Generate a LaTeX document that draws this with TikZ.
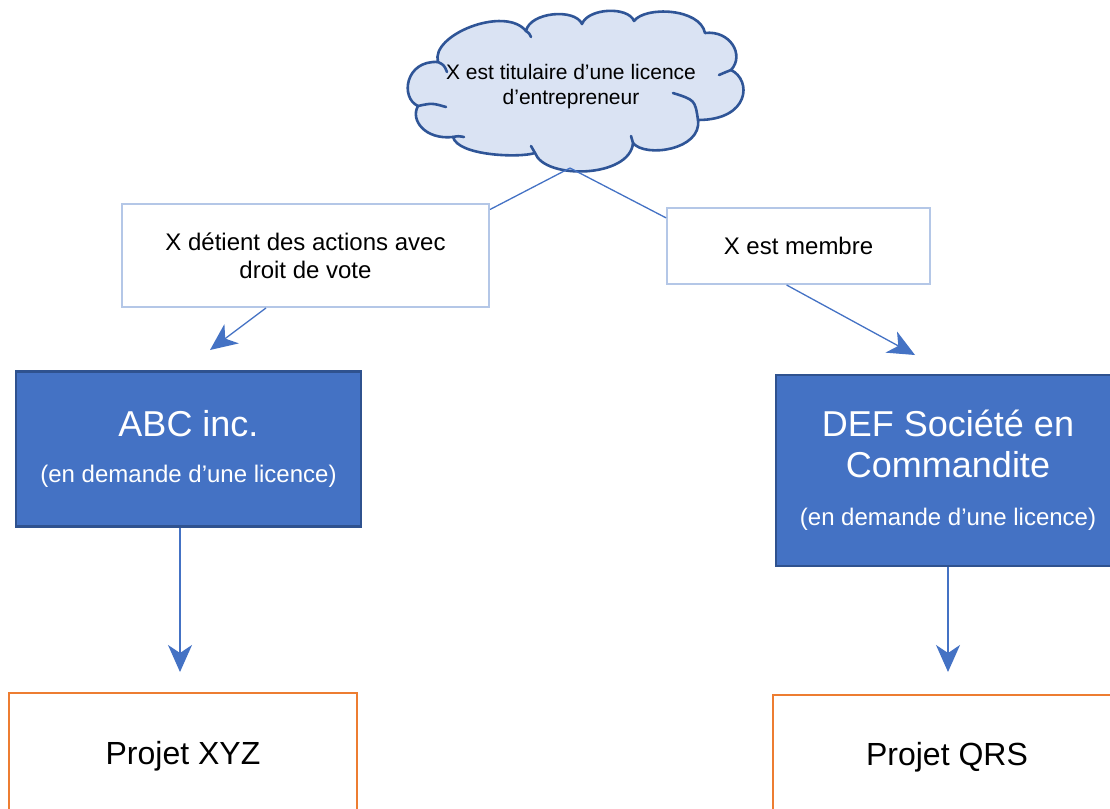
\documentclass[tikz,border=0pt]{standalone}
\usepackage{fontspec}
\setmainfont{Liberation Sans}
\usetikzlibrary{arrows.meta}
\definecolor{accent}{HTML}{4472C4}
\definecolor{accentdark}{HTML}{2F528F}
\definecolor{cloudfill}{HTML}{DAE3F3}
\definecolor{cloudline}{HTML}{2F5597}
\definecolor{lightline}{HTML}{B4C7E7}
\definecolor{orangeline}{HTML}{ED7D31}
\newcommand{\bigline}{\fontsize{36}{41}\selectfont}
\newcommand{\smallline}{\fontsize{24}{29}\selectfont}
\tikzset{
  conn/.style={draw=accent, line width=1.3pt},
  arr/.style={conn, -{Stealth[length=27pt, width=24pt, inset=8pt]}},
  labelbox/.style={draw=lightline, line width=2pt, fill=white, align=center,
    font=\fontsize{24}{28}\selectfont, inner sep=0pt},
  entity/.style={draw=accentdark, line width=2.5pt, fill=accent, text=white,
    align=center, inner sep=0pt, font=\bigline},
  project/.style={draw=orangeline, line width=2pt, fill=white,
    font=\fontsize{32}{38}\selectfont, inner sep=0pt},
  cloudline/.style={draw=cloudline, line width=2.6pt, line cap=round, line join=round}
}
\begin{document}
\begin{tikzpicture}[x=1pt, y=-1pt]
\useasboundingbox (0,0) rectangle (1110,808);
\clip (0,0) rectangle (1110,808);

% cloud outline, puff by puff
\draw[cloudline, fill=cloudfill]
  (438,62) .. controls (430,35) and (505,5) .. (526,31)
  .. controls (530,12) and (575,8) .. (582,24)
  .. controls (588,8) and (628,6) .. (634,21)
  .. controls (645,6) and (700,8) .. (705,33)
  .. controls (730,30) and (745,55) .. (731,70)
  .. controls (752,80) and (750,120) .. (698,120)
  .. controls (702,150) and (645,158) .. (633,143)
  .. controls (630,178) and (545,180) .. (535,153)
  .. controls (520,158) and (458,156) .. (453,137)
  .. controls (425,140) and (410,120) .. (418,106)
  .. controls (400,98) and (405,60) .. (438,62) -- cycle;
% creases where the puffs meet
\draw[cloudline] (526,31) .. controls (529,33) .. (531,37);
\draw[cloudline] (438,62) .. controls (444,65) .. (447,72);
\draw[cloudline] (418,106) .. controls (432,103) .. (446,107);
\draw[cloudline] (453,137) .. controls (458,136) .. (464,137);
\draw[cloudline] (535,153) .. controls (533,149) .. (531,146);
\draw[cloudline] (633,143) .. controls (632,140) .. (631,136);
\draw[cloudline] (698,120) .. controls (695,100) .. (673,93);
\draw[cloudline] (731,70) .. controls (726,72) .. (719,75);
\node[align=center, font=\fontsize{21}{25}\selectfont] (cloud) at (571,87)
  {X est titulaire d’une licence\\d’entrepreneur};
\coordinate (tip) at (570,168);

% relation boxes
\node[labelbox, minimum width=367pt, minimum height=103pt] (rel1) at (305.5,255.5)
  {X détient des actions avec\\droit de vote};
\node[labelbox, minimum width=263pt, minimum height=76pt] (rel2) at (798.5,246)
  {X est membre};

% entities
\node[entity, minimum width=345pt, minimum height=155pt] (abc) at (188.5,449)
  {ABC inc.\\[5pt]\smallline (en demande d’une licence)};
\node[entity, minimum width=344pt, minimum height=191pt] (def) at (948,470.5)
  {DEF Société en\\Commandite\\[7pt]\smallline (en demande d’une licence)};

% projects
\node[project, minimum width=348pt, minimum height=126pt] (xyz) at (183,756) {Projet XYZ};
\node[project, minimum width=348pt, minimum height=124pt] (qrs) at (947,757) {Projet QRS};

% arrow end points
\coordinate (e1) at (210,350);
\coordinate (e2) at (915,355);
\coordinate (e3) at (180,672);
\coordinate (e4) at (948,672);

% connectors
\draw[conn] (tip) -- (rel1.14.5);
\draw[conn] (tip) -- (rel2.168.4);
\draw[arr] (rel1.233.9) -- (e1);
\draw[arr] (rel2.253.2) -- (e2);
\draw[arr] (abc.south -| e3) -- (e3);
\draw[arr] (def.south -| e4) -- (e4);
\end{tikzpicture}
\end{document}
